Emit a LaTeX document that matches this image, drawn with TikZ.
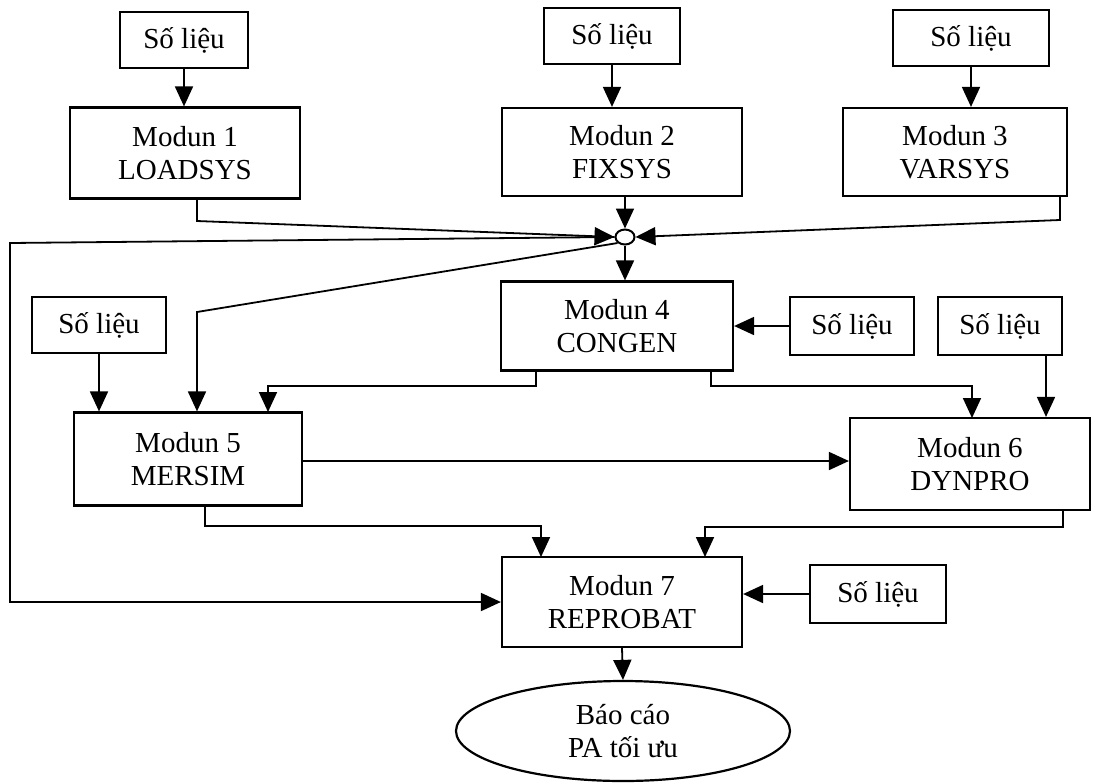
\documentclass[tikz,border=0pt]{standalone}
\usepackage{fontspec}
\setmainfont{Liberation Serif}
\usetikzlibrary{arrows.meta,shapes.geometric,calc}
\begin{document}
\begin{tikzpicture}[x=0.5pt,y=-0.5pt,
  box/.style={draw,line width=1.1pt,inner sep=0pt,align=center,
    font=\fontsize{14.5}{16.5}\selectfont},
  arr/.style={-{Triangle[length=10pt,width=9pt]},line width=0.9pt},
  ln/.style={line width=0.9pt}]
\useasboundingbox (0,0) rectangle (1104,783);
% input data boxes
\node[box,minimum width=64pt,minimum height=28pt] (sl1) at (184,40) {Số liệu};
\node[box,minimum width=68pt,minimum height=28pt] (sl2) at (612,36) {Số liệu};
\node[box,minimum width=78pt,minimum height=28pt] (sl3) at (971,38) {Số liệu};
\node[box,minimum width=62pt,minimum height=29pt] (sl4) at (852,326) {Số liệu};
\node[box,minimum width=62pt,minimum height=29pt] (sl5) at (1000,326) {Số liệu};
\node[box,minimum width=67pt,minimum height=28pt] (sl6) at (99,325) {Số liệu};
\node[box,minimum width=68pt,minimum height=29pt] (sl7) at (878,594) {Số liệu};
% modules
\node[box,minimum width=115pt,minimum height=45.5pt] (m1) at (185,153) {Modun 1\\LOADSYS};
\node[box,minimum width=120pt,minimum height=44pt] (m2) at (622,152) {Modun 2\\FIXSYS};
\node[box,minimum width=112pt,minimum height=44pt] (m3) at (955,152) {Modun 3\\VARSYS};
\node[box,minimum width=116pt,minimum height=44.5pt] (m4) at (617,326) {Modun 4\\CONGEN};
\node[box,minimum width=114pt,minimum height=46.5pt] (m5) at (188,459) {Modun 5\\MERSIM};
\node[box,minimum width=120pt,minimum height=46pt] (m6) at (970,464) {Modun 6\\DYNPRO};
\node[box,minimum width=120pt,minimum height=45pt] (m7) at (622,602) {Modun 7\\REPROBAT};
\node[box,ellipse,minimum width=167pt,minimum height=50pt] (bc) at (623,731) {Báo cáo\\PA tối ưu};
% junction
\node[draw,ellipse,line width=1pt,minimum width=9.5pt,minimum height=7.5pt,inner sep=0pt] (j) at (625,237) {};
\coordinate (lp) at (10,243);
\coordinate (c5) at (197,312);
\coordinate (o1) at (197,199);
\coordinate (o3) at (1060,196);
\coordinate (i6) at (1046,355);
\coordinate (o4a) at (536,370);
\coordinate (i5b) at (268,412);
\coordinate (o4b) at (711,370);
\coordinate (i6b) at (972,418);
\coordinate (o5) at (205,505);
\coordinate (i7a) at (541,557);
\coordinate (o6) at (1063,509);
\coordinate (i7b) at (705,557);
% connectors
\draw[arr] (sl1.south) -- (sl1.south |- m1.north);
\draw[arr] (sl2.south) -- (sl2.south |- m2.north);
\draw[arr] (sl3.south) -- (sl3.south |- m3.north);
\draw[arr] (o1) -- ++(0,22) -- (j.west);
\draw[arr] (m2.south -| j) -- (j.north);
\draw[arr] (o3) -- ++(0,24) -- (j.east);
\draw[arr] (j.south) -- (j |- m4.north);
\draw[arr] (j.west) -- (lp) |- (m7.west);
\draw[arr] (j.south west) -- (c5) -- (c5 |- m5.north);
\draw[arr] (sl4.west) -- (m4.east);
\draw[arr] (sl6.south) -- (sl6.south |- m5.north);
\draw[arr] (i6) -- (i6 |- m6.north);
\draw[arr] (o4a) -- ++(0,16) -| (i5b);
\draw[arr] (o4b) -- ++(0,16) -| (i6b);
\draw[arr] (m5.east |- 0,461) -- (m6.west |- 0,461);
\draw[arr] (o5) -- ++(0,21) -| (i7a);
\draw[arr] (o6) -- ++(0,18) -| (i7b);
\draw[arr] (sl7.west) -- (sl7.west -| m7.east);
\draw[arr] (m7.south) -- (bc.north);
\end{tikzpicture}
\end{document}
